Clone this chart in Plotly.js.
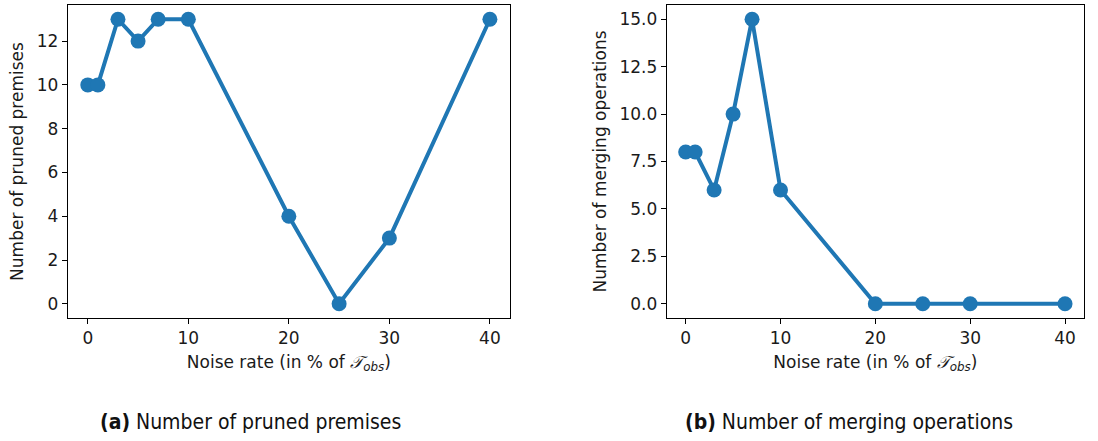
<!DOCTYPE html>
<html><head><meta charset="utf-8">
<script src="https://cdn.plot.ly/plotly-3.0.1.min.js"></script>
<style>html,body{margin:0;padding:0;background:#fff}#chart{width:1098px;height:441px}</style>
</head><body><div id="chart"></div>
<script>
const noiseRates = [0, 1, 3, 5, 7, 10, 20, 25, 30, 40];
const prunedPremises = [10, 10, 13, 12, 13, 13, 4, 0, 3, 13];
const mergingOps = [8, 8, 6, 10, 15, 6, 0, 0, 0, 0];
const xTicks = [0, 10, 20, 30, 40];
const leftYTicks = [0, 2, 4, 6, 8, 10, 12];
const rightYTicks = [0, 2.5, 5, 7.5, 10, 12.5, 15];
const rightYTickText = ['0.0', '2.5', '5.0', '7.5', '10.0', '12.5', '15.0'];
const xTitle = 'Noise rate (in % of <i>𝒯</i><sub><i>obs</i></sub>)';
const leftYTitle = 'Number of pruned premises';
const rightYTitle = 'Number of merging operations';
const captionA = '<b>(a)</b> Number of pruned premises';
const captionB = '<b>(b)</b> Number of merging operations';

const blue = '#1f77b4';
const W = 1098, H = 441;
const font = {family: 'DejaVu Sans, sans-serif', size: 17, color: '#1a1a1a'};

function trace(y, xa, ya) {
  return {x: noiseRates, y: y, xaxis: xa, yaxis: ya, type: 'scatter', mode: 'lines+markers',
    line: {color: blue, width: 4}, marker: {color: blue, size: 15}, cliponaxis: false, showlegend: false};
}
const axBase = {showline: true, mirror: true, linecolor: '#000', linewidth: 1, ticks: 'outside',
  ticklen: 5, tickwidth: 1, tickcolor: '#000', showgrid: false, zeroline: false,
  tickfont: {family: 'DejaVu Sans, sans-serif', size: 17, color: '#1a1a1a'}};

const layout = {
  width: W, height: H, margin: {l: 0, r: 0, t: 0, b: 0}, paper_bgcolor: '#fff', plot_bgcolor: '#fff',
  font: font, showlegend: false,
  xaxis: Object.assign({}, axBase, {domain: [67.7/W, 510/W], range: [-2, 42], tickvals: xTicks, anchor: 'y',
    title: {text: xTitle, font: font, standoff: 8}}),
  yaxis: Object.assign({}, axBase, {domain: [1-318/H, 1-5/H], range: [-0.65, 13.65], tickvals: leftYTicks, anchor: 'x',
    title: {text: leftYTitle, font: font, standoff: 8}}),
  xaxis2: Object.assign({}, axBase, {domain: [666.7/W, 1084/W], range: [-2, 42], tickvals: xTicks, anchor: 'y2',
    title: {text: xTitle, font: font, standoff: 8}}),
  yaxis2: Object.assign({}, axBase, {domain: [1-318/H, 1-5/H], range: [-0.75, 15.75], tickvals: rightYTicks,
    ticktext: rightYTickText, anchor: 'x2', title: {text: rightYTitle, font: font, standoff: 8}}),
  annotations: [
    {text: captionA, xref: 'paper', yref: 'paper', x: 250/W, y: 1-422/H, xanchor: 'center', yanchor: 'middle',
     showarrow: false, font: {family: 'DejaVu Sans Condensed, Liberation Sans Narrow, sans-serif', size: 21, color: '#111'}},
    {text: captionB, xref: 'paper', yref: 'paper', x: 849/W, y: 1-422/H, xanchor: 'center', yanchor: 'middle',
     showarrow: false, font: {family: 'DejaVu Sans Condensed, Liberation Sans Narrow, sans-serif', size: 21, color: '#111'}}
  ]
};
Plotly.newPlot('chart', [trace(prunedPremises, 'x', 'y'), trace(mergingOps, 'x2', 'y2')], layout, {staticPlot: true});
</script></body></html>
